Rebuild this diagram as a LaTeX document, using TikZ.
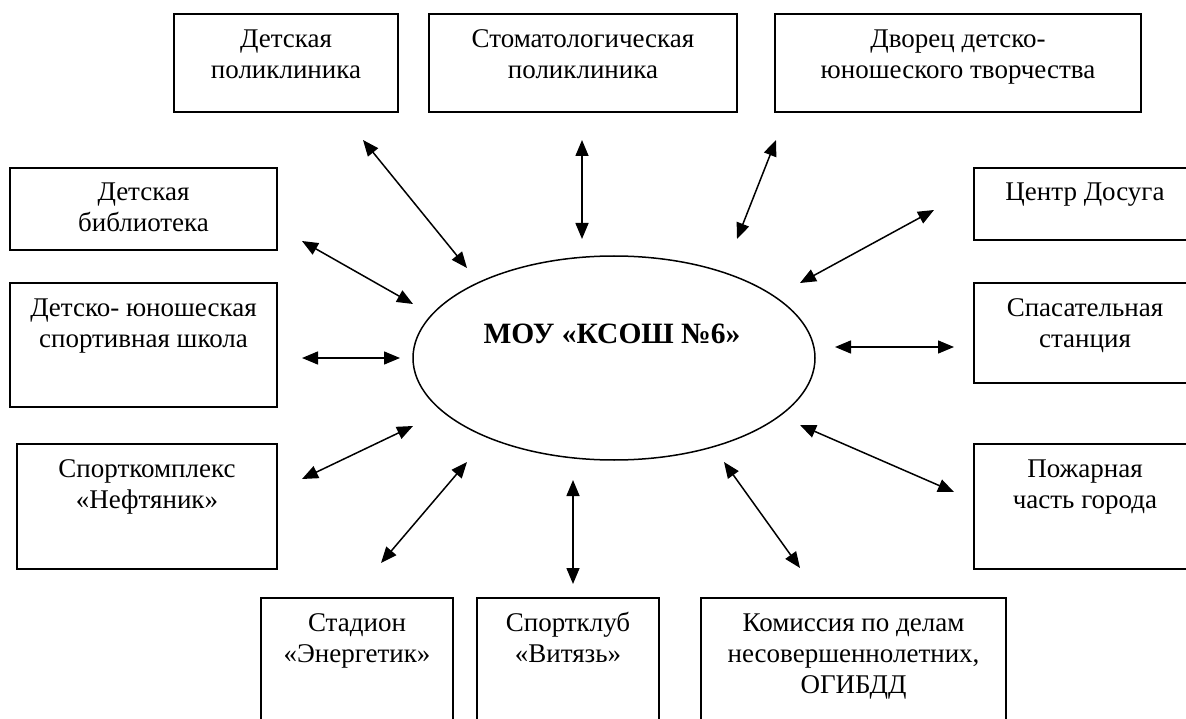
\documentclass[tikz,border=0pt]{standalone}
\usepackage{fontspec}
\setmainfont{Liberation Serif}
\usetikzlibrary{arrows.meta,shapes.geometric,calc}
\tikzset{
  box/.style={draw, line width=1.8pt, inner sep=0pt},
  lbl/.style={inner sep=0pt, align=center, anchor=north, font=\fontsize{27}{31}\selectfont},
  oval/.style={draw, ellipse, line width=1.5pt, inner sep=0pt},
  link/.style={line width=1.5pt, {Triangle[length=16pt,width=13pt]}-{Triangle[length=16pt,width=13pt]}}
}
\begin{document}
\begin{tikzpicture}[x=1pt,y=-1pt]
\useasboundingbox (0,0) rectangle (1186,719);
\clip (0,0) rectangle (1186,719);
% boxes
\node[box, minimum width=224pt, minimum height=98pt] (A) at (286,63) {};
\node[box, minimum width=308pt, minimum height=98pt] (B) at (583,63) {};
\node[box, minimum width=366pt, minimum height=98pt] (C) at (958,63) {};
\node[box, minimum width=267pt, minimum height=82pt] (D) at (143.5,209) {};
\node[box, minimum width=267pt, minimum height=124pt] (E) at (143.5,345) {};
\node[box, minimum width=260pt, minimum height=125pt] (F) at (147,506.5) {};
\node[box, minimum width=192pt, minimum height=142pt] (G) at (357,669) {};
\node[box, minimum width=182pt, minimum height=142pt] (H) at (568,669) {};
\node[box, minimum width=305pt, minimum height=142pt] (I) at (853.5,669) {};
\node[box, minimum width=222pt, minimum height=72pt] (J) at (1085,204) {};
\node[box, minimum width=222pt, minimum height=100pt] (K) at (1085,333) {};
\node[box, minimum width=222pt, minimum height=125pt] (L) at (1085,506.5) {};
% labels
\node[lbl] (tA) at ($(A.north)+(0,12.5)$) {\strut Детская\\\strut поликлиника};
\node[lbl] (tB) at ($(B.north)+(0,12.5)$) {\strut Стоматологическая\\\strut поликлиника};
\node[lbl] (tC) at ($(C.north)+(0,12.5)$) {\strut Дворец детско-\\\strut юношеского творчества};
\node[lbl] (tD) at ($(D.north)+(0,12)$) {\strut Детская\\\strut библиотека};
\node[lbl] (tE) at ($(E.north)+(0,12)$) {\strut Детско- юношеская\\\strut спортивная школа};
\node[lbl] (tF) at ($(F.north)+(0,12.5)$) {\strut Спорткомплекс\\\strut «Нефтяник»};
\node[lbl] (tG) at ($(G.north)+(0,12)$) {\strut Стадион\\\strut «Энергетик»};
\node[lbl] (tH) at ($(H.north)+(0,12)$) {\strut Спортклуб\\\strut «Витязь»};
\node[lbl] (tI) at ($(I.north)+(0,12)$) {\strut Комиссия по делам\\\strut несовершеннолетних,\\\strut ОГИБДД};
\node[lbl] (tJ) at ($(J.north)+(0,12)$) {\strut Центр Досуга};
\node[lbl] (tK) at ($(K.north)+(0,12)$) {\strut Спасательная\\\strut станция};
\node[lbl] (tL) at ($(L.north)+(0,12.5)$) {\strut Пожарная\\\strut часть города};
% centre
\node[oval, minimum width=402pt, minimum height=204pt] (M) at (614,358) {};
\node[inner sep=0pt, font=\fontsize{29.5}{34}\selectfont\bfseries] (tM) at (612,334) {МОУ «КСОШ №6»};
% connector end points
\coordinate (a1) at (363,140); \coordinate (a2) at (467,268);
\coordinate (b1) at (582,140); \coordinate (b2) at (582,239);
\coordinate (c1) at (776,140); \coordinate (c2) at (737,239);
\coordinate (d1) at (302,241); \coordinate (d2) at (413,304);
\coordinate (e1) at (302,358); \coordinate (e2) at (400,358);
\coordinate (f1) at (302,479); \coordinate (f2) at (413,426);
\coordinate (g1) at (381,563); \coordinate (g2) at (467,462);
\coordinate (h1) at (573,584); \coordinate (h2) at (573,480);
\coordinate (i1) at (800,568); \coordinate (i2) at (724,462);
\coordinate (j1) at (934,210); \coordinate (j2) at (800,283);
\coordinate (k1) at (954,347); \coordinate (k2) at (835,347);
\coordinate (l1) at (954,492); \coordinate (l2) at (800,425);
% connectors
\draw[link] (a1) -- (a2);
\draw[link] (b1) -- (b2);
\draw[link] (c1) -- (c2);
\draw[link] (d1) -- (d2);
\draw[link] (e1) -- (e2);
\draw[link] (f1) -- (f2);
\draw[link] (g1) -- (g2);
\draw[link] (h1) -- (h2);
\draw[link] (i1) -- (i2);
\draw[link] (j1) -- (j2);
\draw[link] (k1) -- (k2);
\draw[link] (l1) -- (l2);
\end{tikzpicture}
\end{document}
